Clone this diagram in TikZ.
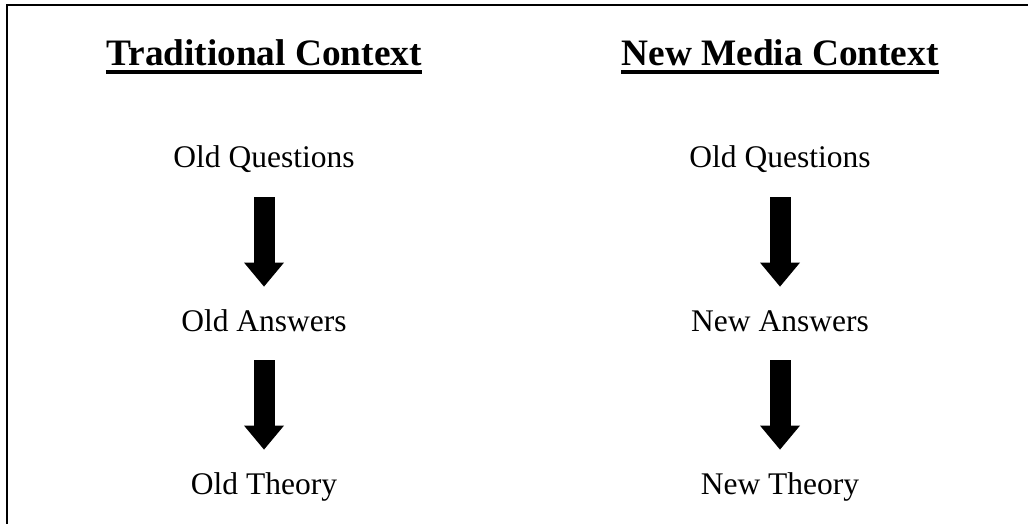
\documentclass[tikz,border=0pt]{standalone}
\usepackage{fontspec}
\setmainfont{Liberation Serif}
\usetikzlibrary{arrows.meta}

\begin{document}
\begin{tikzpicture}[x=0.5pt,y=-0.5pt,
 head/.style={inner sep=0pt,anchor=base,font=\fontsize{18.65}{22}\selectfont\bfseries},
 stage/.style={inner sep=0pt,anchor=base,text height=22pt,text depth=14.5pt,font=\fontsize{15.75}{19}\selectfont},
 blk/.style={line width=10.5pt,-{Triangle[length=12pt,width=20pt,line width=0pt]}},
 uline/.style={line width=2pt}]
\useasboundingbox (0,0) rectangle (1028,524);
% frame
\draw[line width=1pt] (6.5,524) -- (6.5,5.5) -- (1028,5.5);
% headings
\node[head] (trad) at (264,66) {Traditional Context};
\node[head] (newm) at (780,66) {New Media Context};
\draw[uline] ([yshift=-3pt]trad.base west) -- ([yshift=-3pt]trad.base east);
\draw[uline] ([yshift=-3pt]newm.base west) -- ([yshift=-3pt]newm.base east);
% traditional column
\node[stage] (oq1) at (264,168) {Old Questions};
\node[stage] (oa1) at (264,331) {Old Answers};
\node[stage] (ot1) at (264,494) {Old Theory};
% new media column
\node[stage] (oq2) at (780,168) {Old Questions};
\node[stage] (na2) at (780,331) {New Answers};
\node[stage] (nt2) at (780,494) {New Theory};
\draw[blk] (oq1) -- (oa1); \draw[blk] (oa1) -- (ot1);
\draw[blk] (oq2) -- (na2); \draw[blk] (na2) -- (nt2);
\end{tikzpicture}
\end{document}
